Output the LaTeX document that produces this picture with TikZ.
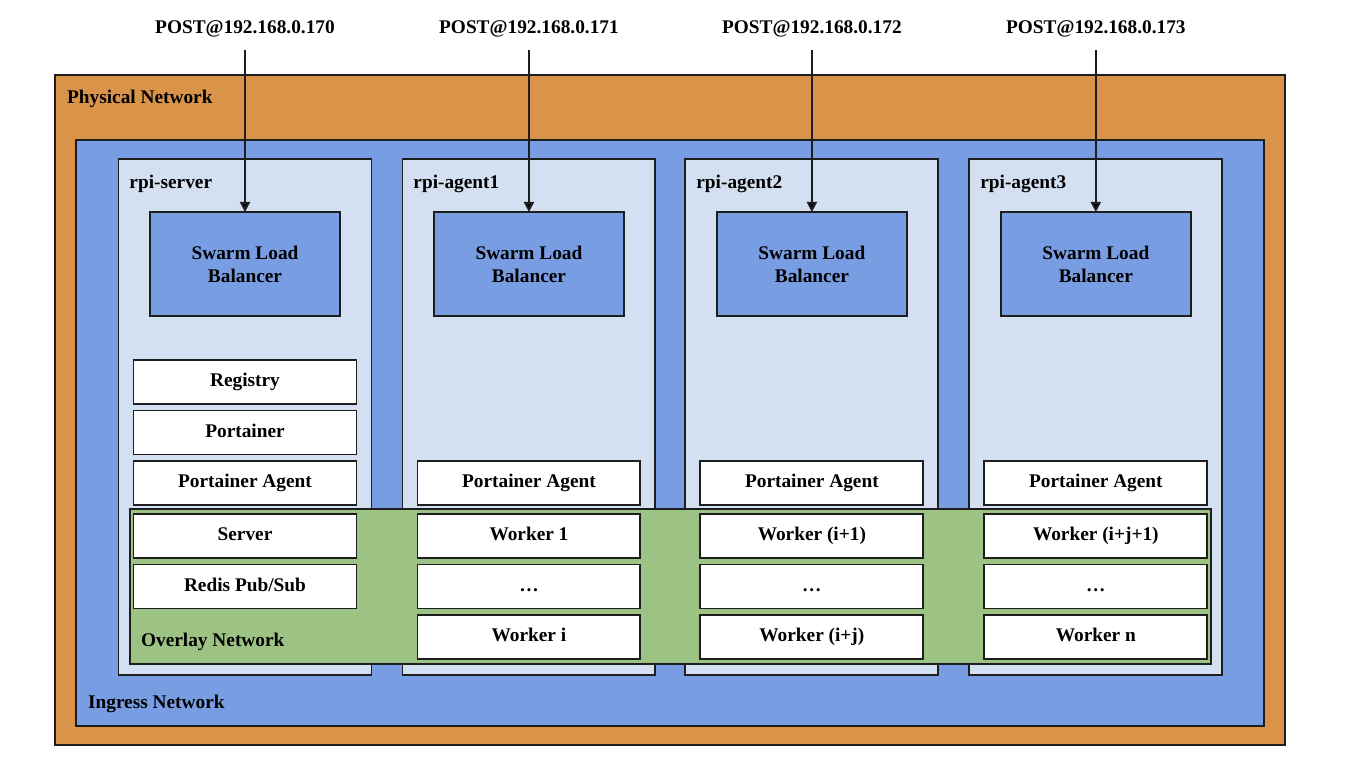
\documentclass[tikz,border=0pt]{standalone}
\usepackage{fontspec}
\setmainfont{Liberation Serif}
\usetikzlibrary{arrows.meta,positioning}
\definecolor{physcol}{HTML}{DA944A}
\definecolor{ingcol}{HTML}{789DE3}
\definecolor{hostcol}{HTML}{D3E0F1}
\definecolor{ovlcol}{HTML}{9DC384}
\definecolor{edgecol}{HTML}{1E1E1E}

\begin{document}
\begin{tikzpicture}[x=0.02cm,y=-0.02cm,>={Triangle[length=5.8pt,width=5.8pt]},
                    font=\fontsize{11}{13}\selectfont\bfseries,
                    line width=1.1pt]
  \tikzstyle{net}=[draw=edgecol, anchor=center, outer sep=0pt, inner sep=0pt]
  \tikzstyle{host}=[net, fill=hostcol, minimum width=5.06cm, minimum height=10.32cm]
  \tikzstyle{lb}=[net, fill=ingcol, minimum width=3.8cm, minimum height=2.08cm, align=center]
  \tikzstyle{svc}=[net, fill=white, minimum width=4.46cm, minimum height=0.88cm,
                   text height=7.6pt, text depth=2.2pt]
  \tikzstyle{lab}=[anchor=west, inner sep=0pt]
  \tikzstyle{post}=[inner xsep=0pt, inner ysep=7.5pt, outer sep=0pt]

  \useasboundingbox (0,0) rectangle (1368,760);

  % networks
  \node[net, fill=physcol, minimum width=24.6cm, minimum height=13.4cm] (P) at (670,410) {};
  \node[net, fill=ingcol, minimum width=23.76cm, minimum height=11.72cm] (I) at (670,433) {};

  % hosts
  \node[host] (H1) at (245,417) {};
  \node[host] (H2) [right=0.62cm of H1] {};
  \node[host] (H3) [right=0.6cm of H2] {};
  \node[host] (H4) [right=0.62cm of H3] {};

  \node[net, fill=ovlcol, minimum width=21.62cm, minimum height=3.1cm] (O) at (670.5,586.5) {};

  % load balancers
  \node[lb, anchor=north] (L1) [below=1.06cm of H1.north] {Swarm Load\\Balancer};
  \node[lb, anchor=north] (L2) [below=1.06cm of H2.north] {Swarm Load\\Balancer};
  \node[lb, anchor=north] (L3) [below=1.06cm of H3.north] {Swarm Load\\Balancer};
  \node[lb, anchor=north] (L4) [below=1.06cm of H4.north] {Swarm Load\\Balancer};

  % rpi-server
  \node[svc] (G)  [below=0.88cm of L1] {Registry};
  \node[svc] (T)  [below=0.13cm of G]  {Portainer};
  \node[svc] (A1) [below=0.13cm of T]  {Portainer Agent};
  \node[svc] (S)  [below=0.18cm of A1] {Server};
  \node[svc] (D)  [below=0.13cm of S]  {Redis Pub/Sub};

  % agents
  \node[svc] (A2)  [below=2.9cm of L2]  {Portainer Agent};
  \node[svc] (W21) [below=0.18cm of A2] {Worker 1};
  \node[svc] (W22) [below=0.13cm of W21] {\dots};
  \node[svc] (W23) [below=0.13cm of W22] {Worker i};

  \node[svc] (A3)  [below=2.9cm of L3]  {Portainer Agent};
  \node[svc] (W31) [below=0.18cm of A3] {Worker (i+1)};
  \node[svc] (W32) [below=0.13cm of W31] {\dots};
  \node[svc] (W33) [below=0.13cm of W32] {Worker (i+j)};

  \node[svc] (A4)  [below=2.9cm of L4]  {Portainer Agent};
  \node[svc] (W41) [below=0.18cm of A4] {Worker (i+j+1)};
  \node[svc] (W42) [below=0.13cm of W41] {\dots};
  \node[svc] (W43) [below=0.13cm of W42] {Worker n};

  % labels
  \node[lab] (PN) at ([shift={(11,24)}]P.north west)  {Physical Network};
  \node[lab] (IN) at ([shift={(11,-22)}]I.south west) {Ingress Network};
  \node[lab] (ON) at ([shift={(10,-22)}]O.south west) {Overlay Network};
  \node[lab] (N1) at ([shift={(10,25)}]H1.north west) {rpi-server};
  \node[lab] (N2) at ([shift={(10,25)}]H2.north west) {rpi-agent1};
  \node[lab] (N3) at ([shift={(10,25)}]H3.north west) {rpi-agent2};
  \node[lab] (N4) at ([shift={(10,25)}]H4.north west) {rpi-agent3};

  % requests
  \node[post] (Q1) [above=3.24cm of L1] {POST@192.168.0.170};
  \node[post] (Q2) [above=3.24cm of L2] {POST@192.168.0.171};
  \node[post] (Q3) [above=3.24cm of L3] {POST@192.168.0.172};
  \node[post] (Q4) [above=3.24cm of L4] {POST@192.168.0.173};

  \path[->, draw=edgecol] (Q1) edge (L1)
                          (Q2) edge (L2)
                          (Q3) edge (L3)
                          (Q4) edge (L4);
\end{tikzpicture}
\end{document}
